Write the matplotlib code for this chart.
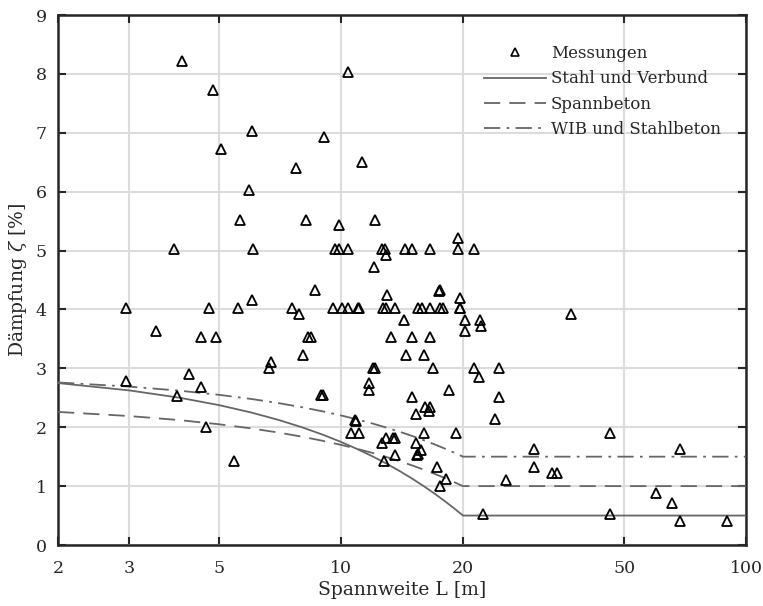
import matplotlib
matplotlib.use("Agg")
import matplotlib.pyplot as plt
from matplotlib.ticker import FixedLocator, FixedFormatter, NullLocator

# ---- data ----
meas_L = [4.04, 4.83, 6.04, 5.04, 7.75, 5.94, 5.64, 8.2, 3.86, 6.05, 6.04, 2.94, 4.71, 5.56, 7.55, 7.89,
          10.42, 9.08, 11.24, 9.88, 12.15, 19.5,
          9.66, 9.88, 10.42, 12.6, 12.84, 14.4, 14.96, 16.58, 19.5, 21.3,
          12.9, 12.06, 8.62, 13.0, 17.55, 17.45, 19.66,
          9.57, 10.03, 10.42, 11.03, 11.1, 12.71, 12.9, 13.58, 15.51, 15.81, 16.58, 17.55, 17.9, 19.66, 19.7,
          14.3, 20.2, 22.0, 22.2, 20.2,
          8.43, 8.3, 13.26, 14.96, 16.58, 8.04, 14.44, 16.03,
          12.1, 12.0, 16.87, 21.3, 24.5, 21.9, 11.72, 11.72, 9.0, 8.9, 18.5, 24.5, 14.96,
          15.3, 16.1, 16.6, 16.5, 24.0, 10.83, 10.9, 10.6, 11.1, 16.03, 19.2, 12.6, 12.9, 13.4, 13.6,
          15.3, 15.8, 13.6, 15.4, 15.5, 12.8, 17.3, 18.2, 17.6, 22.4, 30.0, 30.0, 25.5,
          3.50, 4.52, 4.91, 6.70, 6.64, 4.21, 2.94, 4.51, 3.93, 4.63, 5.45,
          36.9, 46.2, 68.7, 33.2, 34.2, 59.8, 65.7, 46.2, 68.7, 89.7]
meas_z = [8.22, 7.72, 7.03, 6.72, 6.41, 6.03, 5.52, 5.52, 5.03, 5.03, 4.16, 4.02, 4.02, 4.02, 4.02, 3.93,
          8.04, 6.93, 6.51, 5.43, 5.52, 5.22,
          5.03, 5.03, 5.03, 5.03, 5.03, 5.03, 5.03, 5.03, 5.03, 5.03,
          4.92, 4.72, 4.33, 4.24, 4.33, 4.31, 4.19,
          4.02, 4.02, 4.02, 4.02, 4.02, 4.02, 4.02, 4.02, 4.02, 4.02, 4.02, 4.02, 4.02, 4.02, 4.02,
          3.82, 3.82, 3.82, 3.72, 3.63,
          3.53, 3.53, 3.53, 3.53, 3.53, 3.23, 3.23, 3.23,
          3.01, 3.0, 3.01, 3.01, 3.01, 2.86, 2.75, 2.63, 2.55, 2.55, 2.63, 2.52, 2.52,
          2.22, 2.34, 2.34, 2.28, 2.14, 2.12, 2.1, 1.91, 1.91, 1.91, 1.91, 1.73, 1.82, 1.82, 1.82,
          1.73, 1.62, 1.53, 1.52, 1.55, 1.42, 1.33, 1.12, 1.01, 0.53, 1.63, 1.33, 1.10,
          3.63, 3.53, 3.53, 3.11, 3.01, 2.91, 2.78, 2.68, 2.53, 2.01, 1.42,
          3.92, 1.91, 1.63, 1.22, 1.22, 0.88, 0.72, 0.53, 0.41, 0.41]

curve_L = [2, 3, 4, 5, 6, 7, 8, 9, 10, 11, 12, 13, 14, 15, 16, 17, 18, 19, 20, 100]
stahl_z = [2.75, 2.625, 2.5, 2.375, 2.25, 2.125, 2.0, 1.875, 1.75, 1.625, 1.5, 1.375, 1.25, 1.125,
           1.0, 0.875, 0.75, 0.625, 0.5, 0.5]
spann_z = [2.26, 2.19, 2.12, 2.05, 1.98, 1.91, 1.84, 1.77, 1.70, 1.63, 1.56, 1.49, 1.42, 1.35,
           1.28, 1.21, 1.14, 1.07, 1.0, 1.0]
wib_z = [2.76, 2.69, 2.62, 2.55, 2.48, 2.41, 2.34, 2.27, 2.20, 2.13, 2.06, 1.99, 1.92, 1.85,
         1.78, 1.71, 1.64, 1.57, 1.5, 1.5]

x_ticks = [2, 3, 5, 10, 20, 50, 100]
x_labels = ["2", "3", "5", "10", "20", "50", "100"]
y_ticks = list(range(0, 10))

labels = ["Messungen", "Stahl und Verbund", "Spannbeton", "WIB und Stahlbeton"]

# ---- figure ----
plt.rcParams['font.family'] = ['DejaVu Serif']
plt.rcParams['mathtext.fontset'] = 'dejavuserif'

fig = plt.figure(figsize=(7.63, 6.06), dpi=100)
ax = fig.add_axes([58/763, 1-545/606, (746-58)/763, (545-15)/606])

line_col = '#666666'
txt_col = '#262626'
ax.plot(meas_L, meas_z, linestyle='none', marker='^', markersize=7.5, markerfacecolor='none',
        markeredgecolor='black', markeredgewidth=1.3, label=labels[0], zorder=4)
ax.plot(curve_L, stahl_z, color=line_col, lw=1.3, ls='-', label=labels[1], zorder=3)
ax.plot(curve_L, spann_z, color=line_col, lw=1.3, ls=(0, (9, 5)), label=labels[2], zorder=3)
ax.plot(curve_L, wib_z, color=line_col, lw=1.3, ls=(0, (9, 3.5, 1.5, 3.5)), label=labels[3], zorder=3)

ax.set_xscale('log')
ax.set_xlim(2, 100)
ax.set_ylim(0, 9)
ax.xaxis.set_major_locator(FixedLocator(x_ticks))
ax.xaxis.set_major_formatter(FixedFormatter(x_labels))
ax.xaxis.set_minor_locator(NullLocator())
ax.set_yticks(y_ticks)

ax.grid(True, which='major', color='#dcdcdc', lw=1.5, zorder=0)
ax.set_axisbelow(True)
ax.tick_params(direction='in', length=6, width=1.5, top=True, right=True,
               labelsize=12.5, colors=txt_col)
ax.tick_params(axis='x', pad=11)
ax.tick_params(axis='y', pad=8)
for s in ax.spines.values():
    s.set_linewidth(1.8)
    s.set_color(txt_col)

ax.set_xlabel("Spannweite L [m]", fontsize=13.5, color=txt_col, labelpad=3)
ax.set_ylabel("Dämpfung $\\zeta$ [%]", fontsize=13.5, color=txt_col, labelpad=5)

leg = ax.legend(loc='upper left', bbox_to_anchor=(484/763, 1-45/606), bbox_transform=fig.transFigure,
                frameon=False, fontsize=12, handlelength=3.7, handletextpad=0.3,
                labelspacing=0.5, borderpad=0, borderaxespad=0)
for t in leg.get_texts():
    t.set_color(txt_col)
leg.legend_handles[0].set_markersize(6)
leg.legend_handles[0].set_markeredgewidth(1.2)

fig.savefig("out.png", dpi=100)
